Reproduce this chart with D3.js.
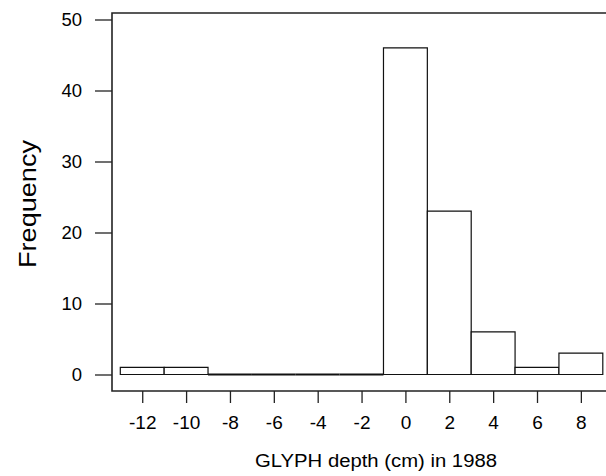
<!DOCTYPE html>
<html>
<head>
<meta charset="utf-8">
<title>GLYPH depth histogram</title>
<style>
    * { margin: 0; padding: 0 }
    body { background: #fff; }
    svg { display: block; font-family: "Liberation Sans", Arial, sans-serif; }
</style>
</head>
<body>
<svg id="chart" width="606" height="476"></svg>
<script src="https://cdn.jsdelivr.net/npm/d3@7"></script>
<script>
    // bin centres (width 2) and counts
    const binCenters = [-12, -10, -8, -6, -4, -2, 0, 2, 4, 6, 8];
    const counts = [1, 1, 0, 0, 0, 0, 46, 23, 6, 1, 3];
    const xTicks = [-12, -10, -8, -6, -4, -2, 0, 2, 4, 6, 8];
    const yTicks = [0, 10, 20, 30, 40, 50];
    const binWidth = 2;

    const svg = d3.select('#chart');
    const frame = { left: 112, top: 13, bottom: 391, right: 620 };

    const x = d3.scaleLinear().domain([-13, 9]).range([120.3, 602.8]);
    const y = d3.scaleLinear().domain([0, 50]).range([374.5, 19.5]);

    // frame (right side falls outside the picture)
    svg.append('path')
        .attr('d', `M${frame.right},${frame.top}H${frame.left}V${frame.bottom}H${frame.right}`)
        .attr('fill', 'none')
        .attr('stroke', '#222')
        .attr('stroke-width', 1.6);

    // bars
    svg.append('g').selectAll('path')
        .data(binCenters.map((c, i) => ({ c, n: counts[i] })))
        .join('path')
        .attr('d', d => {
            const x0 = x(d.c - binWidth / 2), x1 = x(d.c + binWidth / 2);
            return `M${x0},${y(0)}V${y(d.n)}H${x1}V${y(0)}Z`;
        })
        .attr('fill', '#fff')
        .attr('stroke', '#111')
        .attr('stroke-width', d => d.n === 0 ? 1.8 : 1.2);

    // plain hyphen for negatives, as in the original
    const plain = d => String(d);

    // y axis
    const yAxis = svg.append('g')
        .attr('transform', `translate(${frame.left},0)`)
        .call(d3.axisLeft(y).tickValues(yTicks).tickFormat(plain).tickSize(17).tickPadding(13));
    yAxis.select('.domain').remove();
    yAxis.selectAll('line').attr('stroke', '#222').attr('stroke-width', 1.3);
    yAxis.selectAll('text').attr('font-size', 18.5).attr('fill', '#000')
        .attr('font-family', '"Liberation Sans", Arial, sans-serif');

    // x axis
    const xAxis = svg.append('g')
        .attr('transform', `translate(0,${frame.bottom})`)
        .call(d3.axisBottom(x).tickValues(xTicks).tickFormat(plain).tickSize(12).tickPadding(13));
    xAxis.select('.domain').remove();
    xAxis.selectAll('line').attr('stroke', '#222').attr('stroke-width', 1.3);
    xAxis.selectAll('text').attr('font-size', 19).attr('fill', '#000')
        .attr('font-family', '"Liberation Sans", Arial, sans-serif');

    // axis titles
    svg.append('text')
        .attr('x', 376).attr('y', 467)
        .attr('text-anchor', 'middle')
        .attr('font-size', 18)
        .attr('textLength', 242)
        .attr('lengthAdjust', 'spacingAndGlyphs')
        .text('GLYPH depth (cm) in 1988');

    svg.append('text')
        .attr('transform', 'translate(36,204) rotate(-90)')
        .attr('text-anchor', 'middle')
        .attr('font-size', 24)
        .attr('textLength', 128)
        .attr('lengthAdjust', 'spacingAndGlyphs')
        .text('Frequency');
</script>
</body>
</html>
